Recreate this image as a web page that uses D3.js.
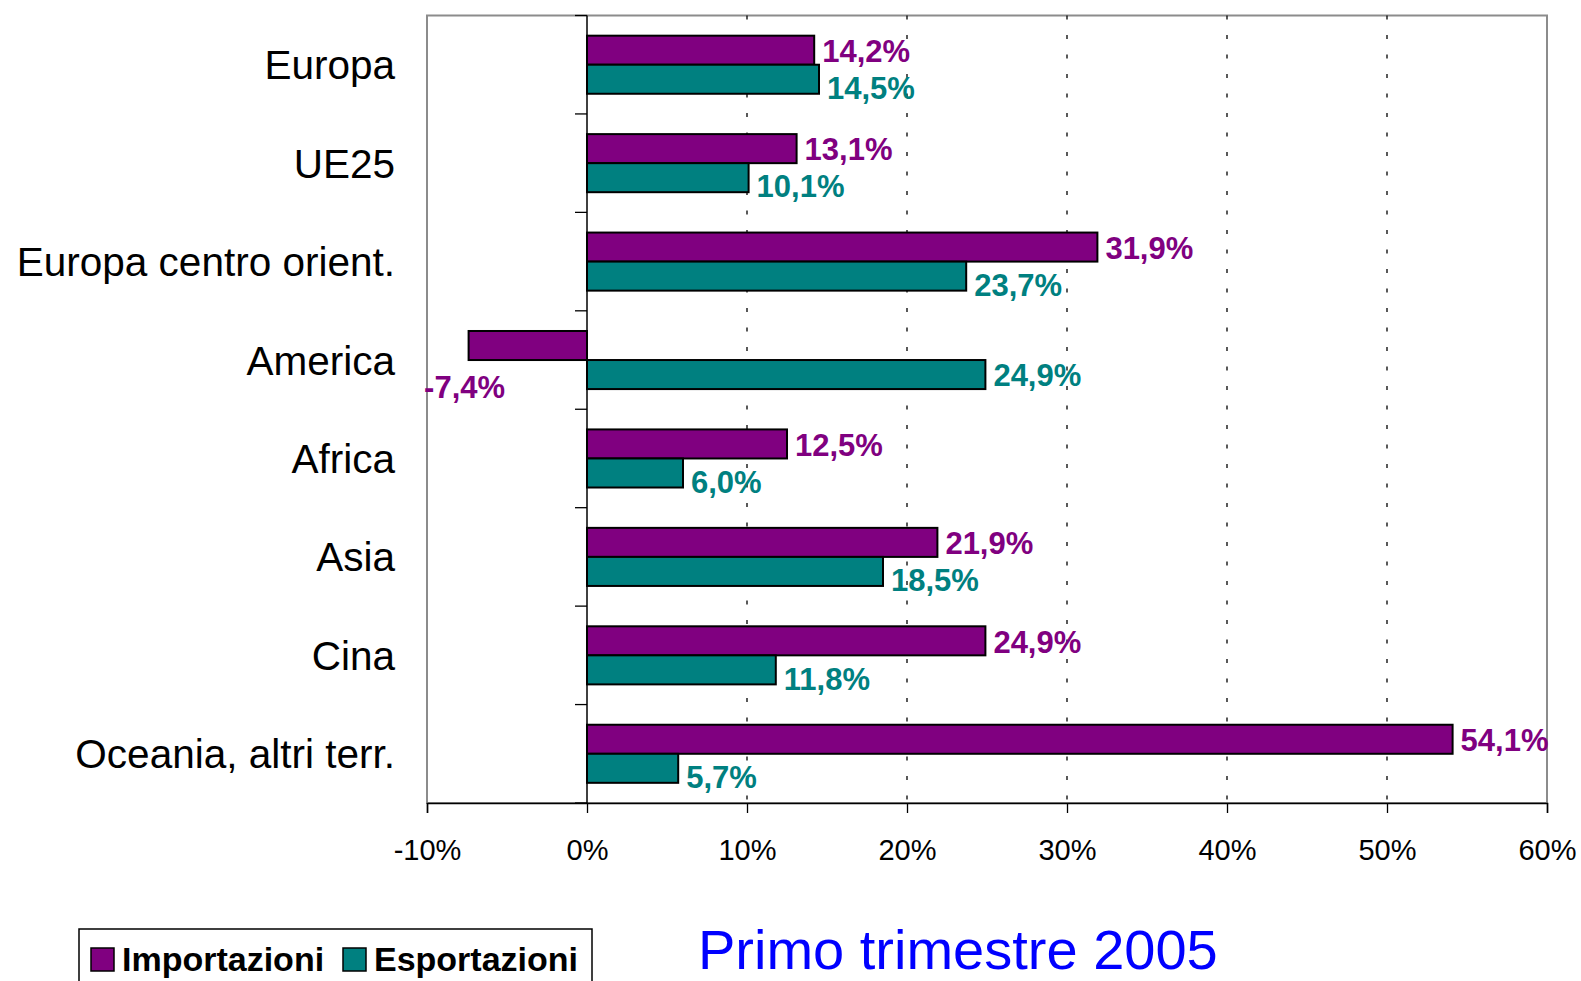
<!DOCTYPE html>
<html>
<head>
<meta charset="utf-8">
<script src="https://cdn.jsdelivr.net/npm/d3@7"></script>
<style>
  body { margin: 0; background: #fff; }
  svg { display: block; font-family: "Liberation Sans", Arial, sans-serif; }
</style>
</head>
<body>
<div id="chart"></div>
<script>
// data (percent change)
var categories = ["Europa", "UE25", "Europa centro orient.", "America", "Africa", "Asia", "Cina", "Oceania, altri terr."];
var importazioni = [14.2, 13.1, 31.9, -7.4, 12.5, 21.9, 24.9, 54.1];
var esportazioni = [14.5, 10.1, 23.7, 24.9, 6.0, 18.5, 11.8, 5.7];
var seriesNames = ["Importazioni", "Esportazioni"];
var seriesColors = ["#800080", "#008080"];
var xTicks = [-10, 0, 10, 20, 30, 40, 50, 60];

var svgWidth = 1581;
var svgHeight = 981;

var plot = { left: 427, right: 1547, top: 15.5, bottom: 803 };

var svg = d3.select("#chart")
  .append("svg")
  .attr("width", svgWidth)
  .attr("height", svgHeight);

var x = d3.scaleLinear()
  .domain([-10, 60])
  .range([plot.left, plot.right]);

var y = d3.scaleBand()
  .domain(categories)
  .range([plot.top, plot.bottom])
  .paddingInner(0.41)
  .paddingOuter(0.205);

var ySub = d3.scaleBand()
  .domain(seriesNames)
  .range([0, y.bandwidth()]);

var rows = categories.map(function(c, i) {
  return { cat: c, values: [importazioni[i], esportazioni[i]] };
});

// plot frame (grey)
svg.append("rect")
  .attr("x", plot.left)
  .attr("y", plot.top)
  .attr("width", plot.right - plot.left)
  .attr("height", plot.bottom - plot.top)
  .attr("fill", "none")
  .attr("stroke", "#8c8c8c")
  .attr("stroke-width", 2);

// dotted grid lines
svg.append("g").selectAll("line")
  .data(xTicks.filter(function(t) { return t > 0 && t < 60; }))
  .enter()
  .append("line")
  .attr("x1", d => x(d))
  .attr("x2", d => x(d))
  .attr("y1", plot.top)
  .attr("y2", plot.bottom)
  .attr("stroke", "#000")
  .attr("stroke-width", 1.3)
  .attr("stroke-dasharray", "4,15.5");

// bottom axis
var bottomAxis = d3.axisBottom(x)
  .tickValues(xTicks)
  .tickSize(10)
  .tickPadding(26)
  .tickFormat(d => d + "%");

var axisG = svg.append("g")
  .attr("transform", `translate(0, ${plot.bottom})`)
  .call(bottomAxis);
axisG.select(".domain").attr("stroke", "#000").attr("stroke-width", 1.5);
axisG.selectAll(".tick line").attr("stroke", "#000").attr("stroke-width", 1.3);
axisG.selectAll("text")
  .attr("font-size", 29)
  .attr("font-family", "'Liberation Sans', Arial, sans-serif")
  .attr("fill", "#000");

// bars
var groups = svg.append("g").selectAll("g")
  .data(rows)
  .enter()
  .append("g")
  .attr("transform", d => `translate(0, ${y(d.cat)})`);

groups.selectAll("rect")
  .data(d => d.values.map(function(v, i) { return { v: v, s: i }; }))
  .enter()
  .append("rect")
  .attr("x", d => x(Math.min(0, d.v)))
  .attr("y", d => ySub(seriesNames[d.s]))
  .attr("width", d => Math.abs(x(d.v) - x(0)))
  .attr("height", ySub.bandwidth())
  .attr("fill", d => seriesColors[d.s])
  .attr("stroke", "#000")
  .attr("stroke-width", 2);

// data labels
var fmt = function(v) { return v.toFixed(1).replace(".", ",") + "%"; };

groups.each(function(row) {
  var g = d3.select(this);
  var h = ySub.bandwidth();
  row.values.forEach(function(v, s) {
    var cy = ySub(seriesNames[s]) + h / 2;
    var tx = x(v) + 8;
    var anchor = "start";
    if (v < 0) {
      tx = x(v) - 4;
      anchor = "middle";
      cy = cy + h + 12;
    } else if (s === 1 && row.values[0] >= 0) {
      cy = cy + 8;
    }
    g.append("text")
      .attr("x", tx)
      .attr("y", cy)
      .attr("dy", "0.38em")
      .attr("text-anchor", anchor)
      .attr("font-size", 31)
      .attr("font-weight", "bold")
      .attr("fill", seriesColors[s])
      .text(fmt(v));
  });
});

// zero line and category ticks
svg.append("line")
  .attr("x1", x(0)).attr("x2", x(0))
  .attr("y1", plot.top).attr("y2", plot.bottom)
  .attr("stroke", "#000")
  .attr("stroke-width", 1.5);

var bounds = categories.map(c => y(c) - y.step() * y.paddingInner() / 2).concat([plot.bottom]);
svg.append("g").selectAll("line")
  .data(bounds)
  .enter()
  .append("line")
  .attr("x1", x(0) - 12).attr("x2", x(0))
  .attr("y1", d => d).attr("y2", d => d)
  .attr("stroke", "#000")
  .attr("stroke-width", 1.3);

// category labels
svg.append("g").selectAll("text")
  .data(categories)
  .enter()
  .append("text")
  .attr("x", 395)
  .attr("y", d => y(d) + y.bandwidth() / 2)
  .attr("dy", "0.36em")
  .attr("text-anchor", "end")
  .attr("font-size", 40.5)
  .attr("fill", "#000")
  .text(d => d);

// legend
var legend = svg.append("g");
legend.append("rect")
  .attr("x", 79).attr("y", 929)
  .attr("width", 513).attr("height", 70)
  .attr("fill", "#fff")
  .attr("stroke", "#000")
  .attr("stroke-width", 1.5);

var legendX = [91, 343];
seriesNames.forEach(function(name, i) {
  legend.append("rect")
    .attr("x", legendX[i]).attr("y", 948)
    .attr("width", 23).attr("height", 23)
    .attr("fill", seriesColors[i])
    .attr("stroke", "#000")
    .attr("stroke-width", 1.5);
  legend.append("text")
    .attr("x", legendX[i] + 31)
    .attr("y", 971)
    .attr("font-size", 34)
    .attr("font-weight", "bold")
    .attr("fill", "#000")
    .text(name);
});

// title
svg.append("text")
  .attr("x", 698)
  .attr("y", 969)
  .attr("font-size", 56)
  .attr("fill", "#0000ff")
  .text("Primo trimestre 2005");
</script>
</body>
</html>
